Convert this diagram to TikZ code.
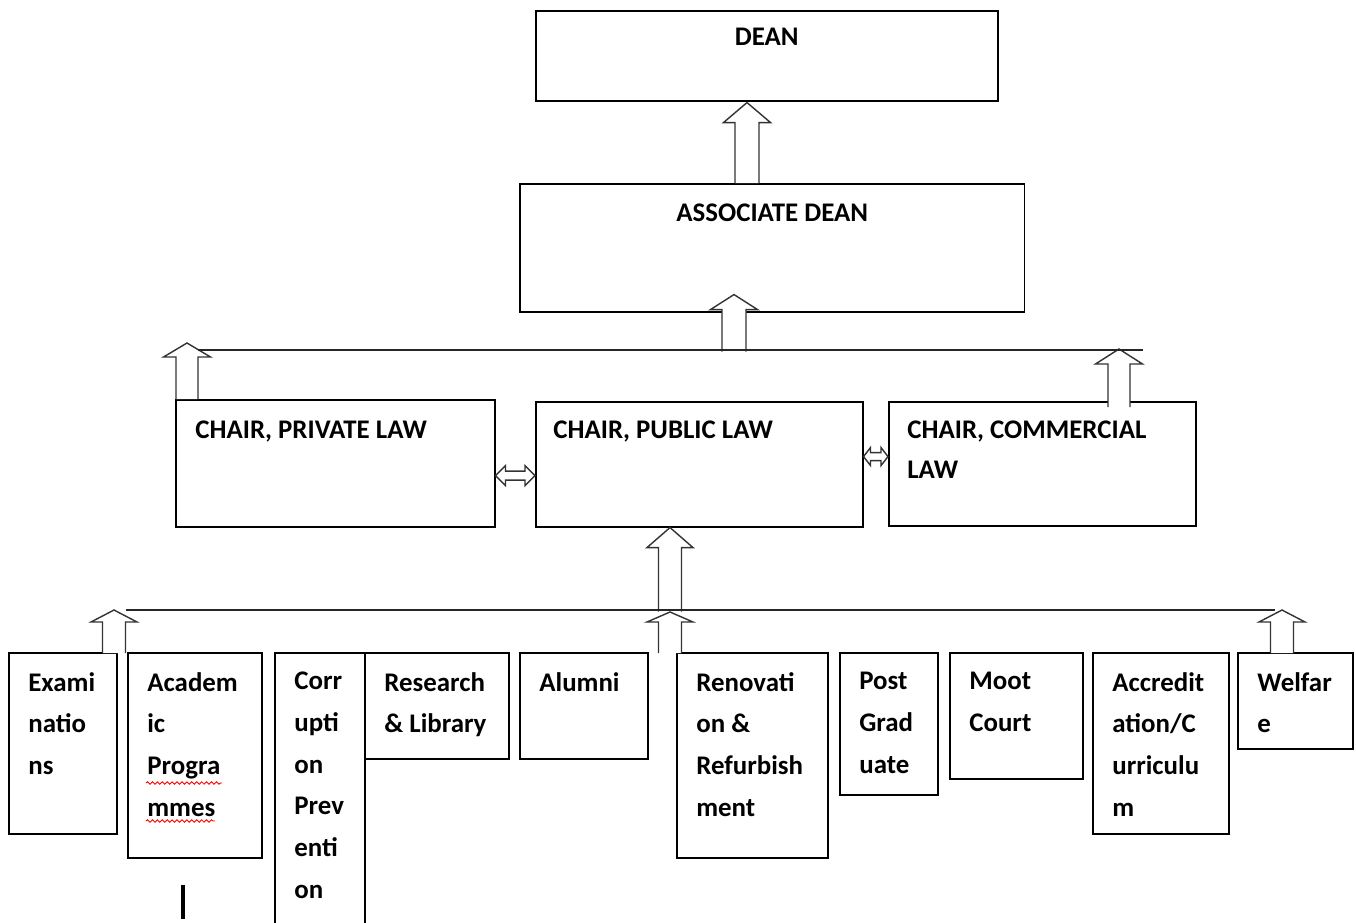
\documentclass[tikz,border=0pt]{standalone}
\usepackage{fontspec}
\setmainfont{Carlito}
\usetikzlibrary{calc,decorations.pathmorphing}

\tikzset{
  office/.style={draw, line width=0.9pt, inner sep=0pt, anchor=north west},
  caption/.style={inner sep=0pt, anchor=north west, align=left,
    font=\bfseries\fontsize{15.3}{23.7}\selectfont},
  title/.style={inner sep=0pt, font=\bfseries\fontsize{15.3}{18}\selectfont},
  hollow/.style={draw=black!80, fill=white, line width=0.8pt, line join=miter},
  bar/.style={line width=0.9pt, black!85},
}

% block arrow: base, tip, shaft half width, head half width, head length
\newcommand{\blockarrow}[5]{%
  \coordinate (ba-h) at ($(#2)!#5!(#1)$);
  \draw[hollow] ($(#1)!#3!90:(#2)$) -- ($(ba-h)!#3!90:(#2)$) -- ($(ba-h)!#4!90:(#2)$) -- (#2)
    -- ($(ba-h)!#4!-90:(#2)$) -- ($(ba-h)!#3!-90:(#2)$) -- ($(#1)!#3!-90:(#2)$);
}
% double block arrow: tip, tip, shaft half width, head half width, head length
\newcommand{\twinarrow}[5]{%
  \coordinate (ta-a) at ($(#1)!#5!(#2)$);
  \coordinate (ta-b) at ($(#2)!#5!(#1)$);
  \draw[hollow] (#1) -- ($(ta-a)!#4!90:(#2)$) -- ($(ta-a)!#3!90:(#2)$) -- ($(ta-b)!#3!90:(#2)$)
    -- ($(ta-b)!#4!90:(#2)$) -- (#2) -- ($(ta-b)!#4!-90:(#2)$) -- ($(ta-b)!#3!-90:(#2)$)
    -- ($(ta-a)!#3!-90:(#2)$) -- ($(ta-a)!#4!-90:(#2)$) -- cycle;
}

\begin{document}
\begin{tikzpicture}[x=0.02cm, y=-0.02cm]
  \useasboundingbox (0,0) rectangle (1356,923);
  \clip (0,0) rectangle (1356,923);

  % top of the faculty
  \node[office, minimum width=9.24cm, minimum height=1.8cm] (dean) at (535,10) {};
  \node[title] (dean-t) at ($(dean.north)+(0,27)$) {DEAN};
  \node[office, minimum width=10.1cm, minimum height=2.56cm] (assoc) at (519,183) {};
  \node[title] (assoc-t) at ($(assoc.north)+(0,30)$) {ASSOCIATE DEAN};

  % chairs
  \node[office, minimum width=6.38cm, minimum height=2.54cm] (priv) at (175,399) {};
  \node[caption] (priv-t) at ($(priv.north west)+(20,22)$) {CHAIR, PRIVATE LAW};
  \node[office, minimum width=6.54cm, minimum height=2.5cm] (pub) at (535,401) {};
  \node[caption] (pub-t) at ($(pub.north west)+(18,20)$) {CHAIR, PUBLIC LAW};
  \node[office, minimum width=6.14cm, minimum height=2.48cm] (comm) at (888,401) {};
  \node[caption, font=\bfseries\fontsize{15.3}{22.7}\selectfont] (comm-t)
    at ($(comm.north west)+(19,20)$) {CHAIR, COMMERCIAL\\LAW};

  % units
  \foreach \name/\x/\w/\h/\txt in {
      exam/8/2.16/3.62/{Exami\\natio\\ns},
      acad/127/2.68/4.1/{Academ\\ic\\Progra\\mmes},
      corr/274/1.8/5.8/{Corr\\upti\\on\\Prev\\enti\\on},
      res/364/2.88/2.12/{Research\\\& Library},
      alum/519/2.56/2.12/{Alumni},
      renov/676/3.02/4.1/{Renovati\\on \&\\Refurbish\\ment},
      post/839/1.96/2.84/{Post\\Grad\\uate},
      moot/949/2.66/2.52/{Moot\\Court},
      accr/1092/2.72/3.62/{Accredit\\ation/C\\urriculu\\m},
      welf/1237/2.3/1.92/{Welfar\\e}}{
    \node[office, minimum width=\w cm, minimum height=\h cm] (\name) at (\x,652) {};
    \node[caption] (\name-t) at ($(\name.north west)+(20,20)$) {\txt};
  }

  % spelling marks and cursor
  \draw[red, line width=0.5pt, decorate, decoration={snake, amplitude=0.7pt, segment length=2.8pt}]
    ($(acad.north west)+(19,131)$) -- ($(acad.north west)+(95,131)$);
  \draw[red, line width=0.5pt, decorate, decoration={snake, amplitude=0.7pt, segment length=2.8pt}]
    ($(acad.north west)+(19,169)$) -- ($(acad.north west)+(88,169)$);
  \draw[line width=2pt] ($(acad.south west)+(56,26)$) -- ($(acad.south west)+(56,60)$);

  % arrows
  \blockarrow{$(assoc.north west)+(228,0)$}{$(dean.south west)+(212,1)$}{0.24cm}{0.47cm}{0.4cm}
  \blockarrow{$(assoc.south west)+(215,39)$}{$(assoc.south west)+(215,-18)$}{0.24cm}{0.47cm}{0.3cm}
  \blockarrow{$(priv.north west)+(12,0)$}{$(priv.north west)+(12,-56)$}{0.22cm}{0.47cm}{0.28cm}
  \blockarrow{$(comm.north west)+(231,6)$}{$(comm.north west)+(231,-52)$}{0.22cm}{0.47cm}{0.3cm}
  \blockarrow{$(pub.south west)+(135,84)$}{$(pub.south west)+(135,0)$}{0.23cm}{0.46cm}{0.4cm}
  \blockarrow{$(renov.north west)+(-6,1)$}{$(renov.north west)+(-6,-40)$}{0.23cm}{0.46cm}{0.2cm}
  \blockarrow{$(exam.north west)+(106,1)$}{$(exam.north west)+(106,-42)$}{0.23cm}{0.46cm}{0.24cm}
  \blockarrow{$(welf.north west)+(45,1)$}{$(welf.north west)+(45,-42)$}{0.23cm}{0.46cm}{0.24cm}
  \twinarrow{$(priv.south east)+(0,-52)$}{$(pub.south west)+(0,-52)$}{0.09cm}{0.2cm}{0.2cm}
  \twinarrow{$(pub.south east)+(0,-71)$}{$(comm.south west)+(0,-70)$}{0.08cm}{0.18cm}{0.14cm}

  % bars
  \draw[bar] ($(priv.north west)+(23,-49)$) -- ($(comm.north west)+(255,-51)$);
  \draw[bar] ($(exam.north west)+(118,-42)$) -- ($(welf.north west)+(38,-42)$);
\end{tikzpicture}
\end{document}
